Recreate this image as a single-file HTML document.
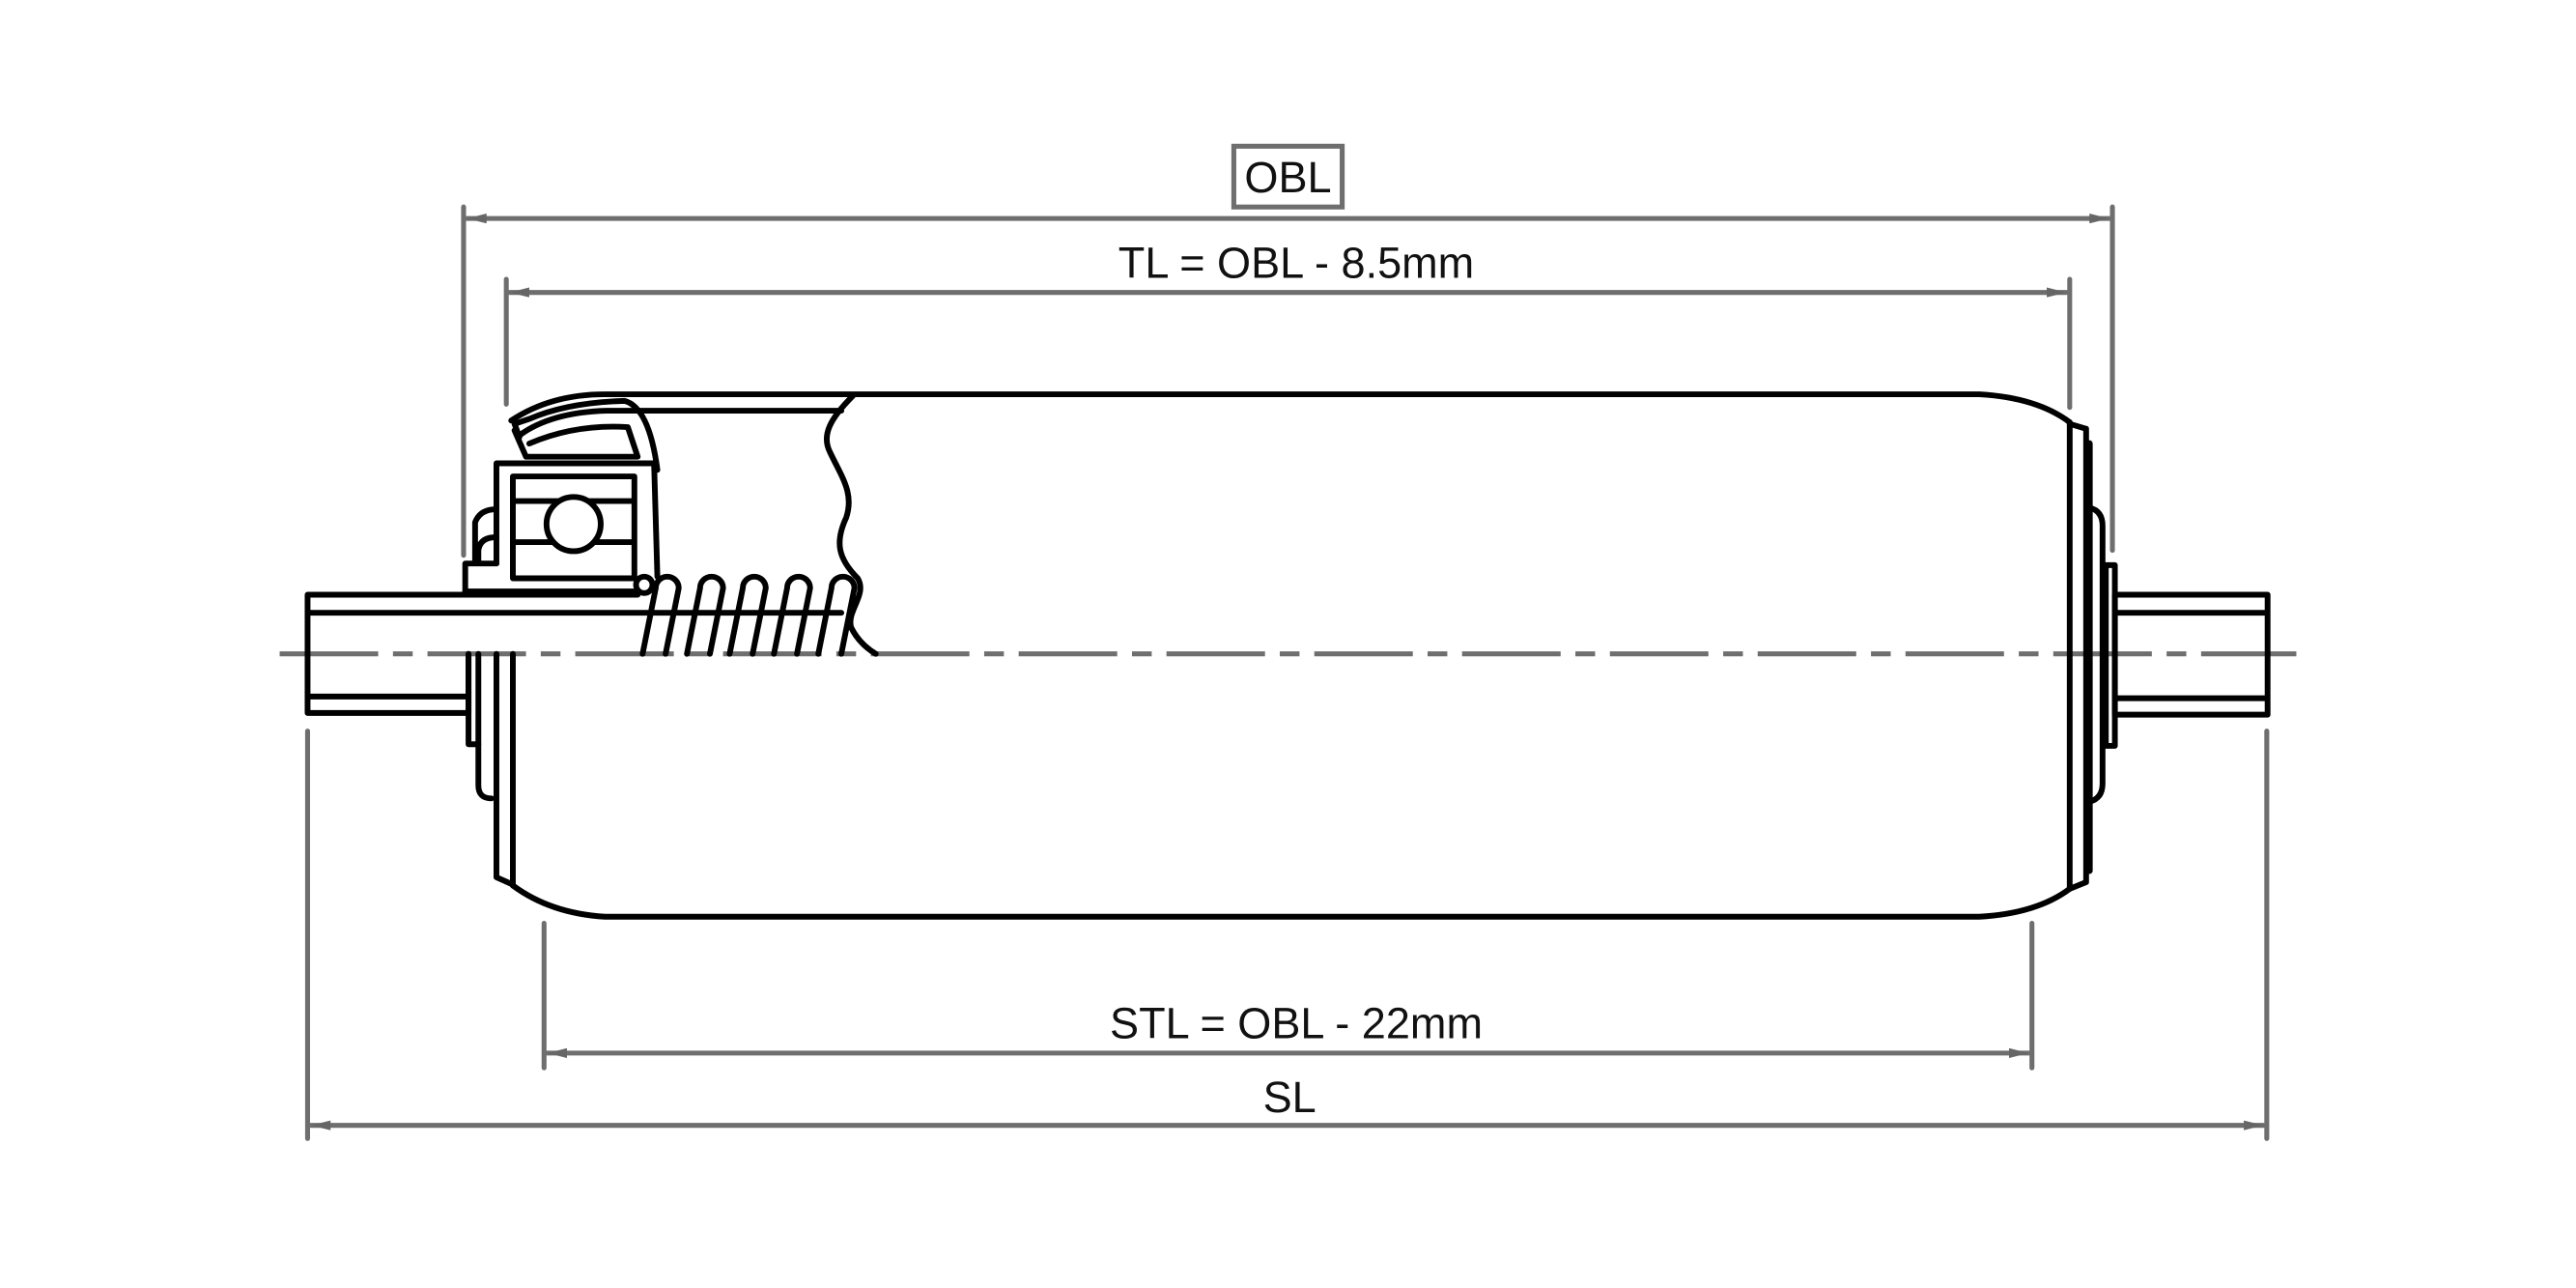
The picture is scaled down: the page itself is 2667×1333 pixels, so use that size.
<!DOCTYPE html>
<html><head><meta charset="utf-8"><style>
html,body{margin:0;padding:0;background:#fff;}
svg{display:block;}
</style></head><body>
<svg width="2667" height="1333" viewBox="0 0 1568 784" xmlns="http://www.w3.org/2000/svg">
<defs>
<marker id="a" viewBox="0 0 12 6" refX="12" refY="3" markerWidth="12" markerHeight="6" markerUnits="userSpaceOnUse" orient="auto-start-reverse">
<path d="M0,0 L12,3 L0,6 Z" fill="#666"/>
</marker>
</defs>
<rect width="1568" height="784" fill="#fff"/>
<g stroke="#6e6e6e" stroke-width="3" fill="none" stroke-linecap="round">
<line x1="282" y1="126" x2="282" y2="338"/>
<line x1="1286" y1="126" x2="1286" y2="335"/>
<line x1="308" y1="170" x2="308" y2="246"/>
<line x1="1260" y1="170" x2="1260" y2="248"/>
<line x1="331" y1="562" x2="331" y2="650"/>
<line x1="1237" y1="562" x2="1237" y2="650"/>
<line x1="187" y1="445" x2="187" y2="693"/>
<line x1="1380" y1="445" x2="1380" y2="693"/>
<line x1="284" y1="133" x2="1284" y2="133" marker-start="url(#a)" marker-end="url(#a)"/>
<line x1="310" y1="178" x2="1258" y2="178" marker-start="url(#a)" marker-end="url(#a)"/>
<line x1="333" y1="641" x2="1235" y2="641" marker-start="url(#a)" marker-end="url(#a)"/>
<line x1="189" y1="685" x2="1378" y2="685" marker-start="url(#a)" marker-end="url(#a)"/>
<rect x="751" y="89" width="66" height="37" stroke-width="3"/>
<line x1="170" y1="398" x2="1398" y2="398" stroke-dasharray="60 9 12 9" stroke-linecap="butt"/>
</g>
<g font-family="Liberation Sans, sans-serif" font-size="26.5" fill="#111" text-anchor="middle">
<text x="784" y="117">OBL</text>
<text x="789" y="169">TL = OBL - 8.5mm</text>
<text x="789" y="632">STL = OBL - 22mm</text>
<text x="785" y="677">SL</text>
</g>
<g stroke="#000" stroke-width="3.5" fill="none" stroke-linejoin="round" stroke-linecap="round">
<path d="M311,256 Q335,240 368,240 L1205,240 Q1240,242 1260,257"/>
<path d="M312,539 Q335,556 368,558 L1205,558 Q1240,556 1260,541"/>
<line x1="312" y1="398" x2="312" y2="539"/>
<line x1="1260" y1="257" x2="1260" y2="541"/>
<path d="M316,265 Q335,251 369,250 L512,250"/>
<path d="M519,241 C505,255 500,265 505,275 C512,290 520,300 515,315 C508,330 510,340 522,352 C528,362 515,372 518,382 C522,390 528,395 533,398"/>
<path d="M285,398 L285,453 L291,453"/>
<path d="M291,398 L291,478 Q291,486 299,486"/>
<path d="M302,398 L302,534 L311,538"/>
<path d="M285,424 L187,424 M285,434 L187,434 L187,362 L388,362 M187,373 L512,373"/>
<line x1="285" y1="398" x2="285" y2="434"/>
<path d="M283,360 L283,343 L302,343"/>
<path d="M283,360 L387,360"/>
<path d="M302,343 L302,282 L398,282 L400,351"/>
<rect x="312" y="290" width="74" height="62"/>
<line x1="314" y1="305" x2="384" y2="305"/>
<line x1="314" y1="330" x2="384" y2="330"/>
<circle cx="349" cy="319" r="16.5" fill="#fff"/>
<circle cx="392" cy="356" r="5"/>
<path d="M313,262 L320,278 L388,278 L382,260 Q350,258 322,270"/>
<path d="M316,266 L313,258 L322,255 Q345,245 380,244 Q395,248 400,286"/>
<path d="M302,327 Q292,327 291,335 L291,342 M302,310 Q292,310 289,318 L289,342"/>
<path d="M391,398 L399,358 A7 7 0 0 1 413,358 L405,398"/>
<path d="M418,398 L426,358 A7 7 0 0 1 440,358 L432,398"/>
<path d="M444,398 L452,358 A7 7 0 0 1 466,358 L458,398"/>
<path d="M471,398 L479,358 A7 7 0 0 1 493,358 L485,398"/>
<path d="M498,398 L506,358 A7 7 0 0 1 520,358 L512,398"/>
<path d="M1260,258 L1270,261 L1270,537 L1260,541"/>
<line x1="1272" y1="270" x2="1272" y2="530" stroke-width="4"/>
<path d="M1272,309 Q1280,311 1280,320 L1280,477 Q1280,486 1272,488"/>
<rect x="1282" y="344" width="5.5" height="110"/>
<rect x="1287.5" y="362" width="93" height="73"/>
<line x1="1288" y1="373" x2="1380" y2="373"/>
<line x1="1288" y1="425" x2="1380" y2="425"/>
</g>
</svg>
</body></html>
